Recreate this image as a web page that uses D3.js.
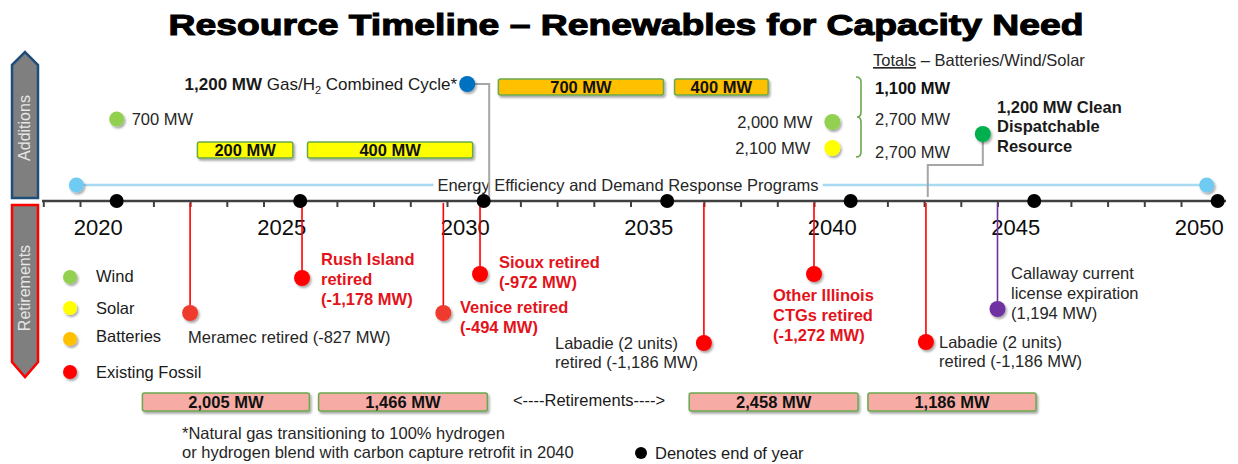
<!DOCTYPE html>
<html><head><meta charset="utf-8">
<script src="https://cdn.jsdelivr.net/npm/d3@7"></script>
<style>
body{margin:0;background:#fff}
svg{display:block}
text{font-family:"Liberation Sans",Arial,sans-serif}
</style></head><body>
<svg id="c" width="1238" height="464"></svg>
<script>
// ---------------- data ----------------
const yearLabels = [2020, 2025, 2030, 2035, 2040, 2045, 2050];
const endOfYearMarks = [2021, 2026, 2031, 2036, 2041, 2046, 2051];
const tickYears = d3.range(2019, 2052);

const retireNames = ["Meramec", "Rush Island", "Venice", "Sioux", "Labadie (2 units)", "Other Illinois CTGs", "Labadie (2 units)", "Callaway"];
const retireYears = [2023.0, 2026.05, 2029.9, 2030.9, 2037.0, 2040.0, 2043.05, 2045.0];
const retireMW = [-827, -1178, -494, -972, -1186, -1272, -1186, 1194];
const retireLabels = [
  ["Meramec retired (-827 MW)"],
  ["Rush Island", "retired", "(-1,178 MW)"],
  ["Venice retired", "(-494 MW)"],
  ["Sioux retired", "(-972 MW)"],
  ["Labadie (2 units)", "retired (-1,186 MW)"],
  ["Other Illinois", "CTGs retired", "(-1,272 MW)"],
  ["Labadie (2 units)", "retired (-1,186 MW)"],
  ["Callaway current", "license expiration", "(1,194 MW)"]
];

const solarBarMW = ["200 MW", "400 MW"];
const solarBarStart = [2023.2, 2026.2];
const solarBarEnd = [2025.8, 2030.7];
const batteryBarMW = ["700 MW", "400 MW"];
const batteryBarStart = [2031.4, 2036.2];
const batteryBarEnd = [2035.9, 2038.75];
const retireBarMW = ["2,005 MW", "1,466 MW", "2,458 MW", "1,186 MW"];
const retireBarStart = [2021.7, 2026.5, 2036.6, 2041.47];
const retireBarEnd = [2026.25, 2031.1, 2041.2, 2046.05];

const pointNames = ["Wind 700 MW", "Gas/H2 CC", "Wind 2,000 MW", "Solar 2,100 MW", "Clean Dispatchable"];
const pointYears = [2021.0, 2030.55, 2040.5, 2040.5, 2044.6];
const pointMW = ["700 MW", "1,200 MW", "2,000 MW", "2,100 MW", "1,200 MW"];

const totalsLabels = ["1,100 MW", "2,700 MW", "2,700 MW"];
const eeStart = 2019.9, eeEnd = 2050.7;
const legendNames = ["Wind", "Solar", "Batteries", "Existing Fossil"];

// ---------------- layout / style ----------------
const FS = 16.5;
const C = {wind:"#92d050", solar:"#ffff00", batt:"#ffc000", fossil:"#ff0000", fossil2:"#ef3b2f",
  purple:"#7030a0", gas:"#0070c0", clean:"#00b050", ee:"#a8daf2", eeDot:"#6fcbf2",
  pink:"#f6aca5", barStroke:"#6aa84f", red:"#e3131b", text:"#262626"};
const svg = d3.select("#c");
const x = d3.scaleLinear().domain([2019, 2051]).range([43.3, 1217.7]);
const axisY = 201;

const defs = svg.append("defs");
const f = defs.append("filter").attr("id","sh").attr("x","-50%").attr("y","-50%").attr("width","200%").attr("height","200%");
f.append("feDropShadow").attr("dx",1.5).attr("dy",2).attr("stdDeviation",1.3).attr("flood-color","#000").attr("flood-opacity",0.35);

function mtext(g, lines, x0, yc, opt) {
  const fs = opt.size || FS, lh = opt.lh || 20;
  const t = g.append("text").attr("x", x0).attr("font-size", fs)
    .attr("font-weight", opt.bold ? "bold" : "normal")
    .attr("fill", opt.fill || C.text).attr("text-anchor", opt.anchor || "start");
  lines.forEach((l, i) => t.append("tspan").attr("x", x0).attr("y", yc + i * lh + fs * 0.36).text(l));
  return t;
}

// title
svg.append("text").attr("x", 626).attr("y", 35).attr("text-anchor","middle")
  .attr("font-size", 30).attr("font-weight","bold").attr("fill","#000")
  .attr("stroke","#000").attr("stroke-width",1.1)
  .attr("textLength", 915).attr("lengthAdjust","spacingAndGlyphs")
  .text("Resource Timeline \u2013 Renewables for Capacity Need");

// side arrows
svg.append("path").attr("d","M12,65 L25,52 L38,65 L38,198 L12,198 Z")
  .attr("fill","#7f7f7f").attr("stroke","#1f4e79").attr("stroke-width",2.5);
svg.append("text").attr("transform","translate(30,128) rotate(-90)").attr("text-anchor","middle")
  .attr("font-size",16).attr("fill","#e6e6e6").text("Additions");
svg.append("path").attr("d","M12,205 L38,205 L38,362 L25,377 L12,362 Z")
  .attr("fill","#7f7f7f").attr("stroke","#ff0000").attr("stroke-width",2.5);
svg.append("text").attr("transform","translate(30,288) rotate(-90)").attr("text-anchor","middle")
  .attr("font-size",16).attr("fill","#e6e6e6").text("Retirements");

// EE/DR line
svg.append("line").attr("x1", x(eeStart)).attr("x2", x(eeEnd)).attr("y1",185).attr("y2",185)
  .attr("stroke",C.ee).attr("stroke-width",2.5);
const eeText = svg.append("text").attr("x",628).attr("y",185+5.8).attr("text-anchor","middle")
  .attr("font-size",FS).attr("fill",C.text).text("Energy Efficiency and Demand Response Programs");
const bb = eeText.node().getBBox();
svg.append("rect").attr("x",bb.x-4).attr("y",176).attr("width",bb.width+8).attr("height",18).attr("fill","#fff");
eeText.raise();
[eeStart, eeEnd].forEach(v => svg.append("circle").attr("cx",x(v)).attr("cy",185).attr("r",7.5)
  .attr("fill",C.eeDot).attr("filter","url(#sh)"));

// connectors (gray)
const gx = x(pointYears[1]), gxDrop = x(2031.15);
svg.append("path").attr("d",`M${gx},84 H${gxDrop} V${axisY-1}`).attr("fill","none").attr("stroke","#a6a6a6").attr("stroke-width",2);
const cx = x(pointYears[4]), cxDrop = x(2043.1);
svg.append("path").attr("d",`M${cx},134 V165 H${cxDrop} V${axisY-4}`).attr("fill","none").attr("stroke","#a6a6a6").attr("stroke-width",2);

// axis
svg.append("line").attr("x1",42).attr("x2",1226).attr("y1",axisY).attr("y2",axisY).attr("stroke","#404040").attr("stroke-width",2.5);
const ax = d3.axisBottom(x).tickValues(tickYears).tickSize(6).tickSizeOuter(0).tickFormat("");
const axg = svg.append("g").attr("transform",`translate(0,${axisY})`).call(ax);
axg.select(".domain").remove();
axg.selectAll(".tick line").attr("stroke","#404040").attr("stroke-width",2);

svg.selectAll("text.yr").data(yearLabels).join("text").attr("class","yr")
  .attr("x", d => x(d + 0.5)).attr("y", 235).attr("text-anchor","middle")
  .attr("font-size",22).attr("fill","#0d0d0d").text(d => d);

// retirement stems + dots + labels
const dotY = [313, 278, 313, 274, 343, 274, 342, 309];
const dotCol = [C.fossil2, C.fossil, C.fossil2, C.fossil, C.fossil, C.fossil, C.fossil, C.purple];
const labX = [188, 321, 460, 499, 555, 773, 939, 1011];
const labY = [337, 259, 307, 262, 343, 295, 342, 273];
const labBold = [false, true, true, true, false, true, false, false];
retireYears.forEach((yv, i) => {
  const xv = x(yv);
  svg.append("line").attr("x1",xv).attr("x2",xv).attr("y1",axisY+2).attr("y2",dotY[i])
    .attr("stroke", i === 7 ? C.purple : C.fossil).attr("stroke-width",1.6);
});
retireYears.forEach((yv, i) => {
  svg.append("circle").attr("cx",x(yv)).attr("cy",dotY[i]).attr("r",8).attr("fill",dotCol[i]).attr("filter","url(#sh)");
  mtext(svg, retireLabels[i], labX[i], labY[i], {size: 16.5, bold: labBold[i], fill: labBold[i] ? C.red : C.text, lh: i===4||i===6 ? 19.5 : 20});
});

// end of year black dots
svg.selectAll("circle.eoy").data(endOfYearMarks).join("circle").attr("class","eoy")
  .attr("cx", d => x(d)).attr("cy", axisY).attr("r",7).attr("fill","#000");

// addition bars
function bars(names, s, e, y0, h, fill) {
  names.forEach((n, i) => {
    svg.append("rect").attr("x",x(s[i])).attr("y",y0).attr("width",x(e[i])-x(s[i])).attr("height",h)
      .attr("rx",2).attr("fill",fill).attr("stroke",C.barStroke).attr("stroke-width",1.5).attr("filter","url(#sh)");
    svg.append("text").attr("x",(x(s[i])+x(e[i]))/2).attr("y",y0+h/2+5.8).attr("text-anchor","middle")
      .attr("font-size",16.5).attr("font-weight","bold").attr("fill","#111").text(n);
  });
}
bars(solarBarMW, solarBarStart, solarBarEnd, 142, 16, C.solar);
bars(batteryBarMW, batteryBarStart, batteryBarEnd, 79, 16, C.batt);
bars(retireBarMW, retireBarStart, retireBarEnd, 393, 18, C.pink);

// addition points
const ptY = [119, 84, 122, 148, 134];
const ptCol = [C.wind, C.gas, C.wind, C.solar, C.clean];
pointYears.forEach((yv, i) => {
  svg.append("circle").attr("cx",x(yv)).attr("cy",ptY[i]).attr("r", i===0 ? 7.5 : 8).attr("fill",ptCol[i]).attr("filter","url(#sh)");
});
mtext(svg, [pointMW[0]], x(pointYears[0]) + 15, 119, {});
mtext(svg, [pointMW[2]], x(pointYears[2]) - 20, 122, {anchor:"end"});
mtext(svg, [pointMW[3]], x(pointYears[3]) - 22, 148, {anchor:"end"});
// gas label
const gt = svg.append("text").attr("x", x(pointYears[1]) - 10).attr("y", 84 + 6).attr("text-anchor","end")
  .attr("font-size",17).attr("fill","#1a1a1a");
gt.append("tspan").attr("font-weight","bold").text(pointMW[1] + " ");
gt.append("tspan").text("Gas/H");
gt.append("tspan").attr("font-size",11).attr("dy",4).text("2");
gt.append("tspan").attr("dy",-4).text(" Combined Cycle*");
// clean label
mtext(svg, [pointMW[4] + " Clean", "Dispatchable", "Resource"], 997, 107, {size:16.5, bold:true, fill:"#1a1a1a", lh:19.5});

// totals
const tt = svg.append("text").attr("x",873).attr("y",60+6).attr("font-size",FS).attr("fill",C.text);
tt.append("tspan").attr("text-decoration","underline").text("Totals");
tt.append("tspan").text(" \u2013 Batteries/Wind/Solar");
svg.append("path").attr("d","M856,77 Q861,77 861,82 L861,112 Q861,117 857,117 Q861,117 861,122 L861,152 Q861,157 856,157")
  .attr("fill","none").attr("stroke",C.barStroke).attr("stroke-width",1.6);
mtext(svg, [totalsLabels[0]], 875, 88, {size:16.5, bold:true, fill:"#111"});
mtext(svg, [totalsLabels[1]], 875, 119, {});
mtext(svg, [totalsLabels[2]], 875, 152, {});

// legend
const legY = [277, 308, 339, 372], legTY = [276, 308, 336, 372];
const legCol = [C.wind, C.solar, C.batt, C.fossil];
legendNames.forEach((n, i) => {
  svg.append("circle").attr("cx",70).attr("cy",legY[i]).attr("r",7).attr("fill",legCol[i]).attr("filter","url(#sh)");
  mtext(svg, [n], 96, legTY[i], {fill:"#1a1a1a"});
});

// retirements arrow text, footnote, eoy legend
mtext(svg, ["<----Retirements---->"], 589, 400, {anchor:"middle", fill:"#1a1a1a"});
mtext(svg, ["*Natural  gas transitioning to 100% hydrogen", "or hydrogen blend  with carbon capture retrofit in 2040"], 182, 433, {lh:19});
svg.append("circle").attr("cx",641).attr("cy",453).attr("r",6).attr("fill","#000");
mtext(svg, ["Denotes end of year"], 655, 453, {fill:"#1a1a1a"});
</script>
</body></html>
